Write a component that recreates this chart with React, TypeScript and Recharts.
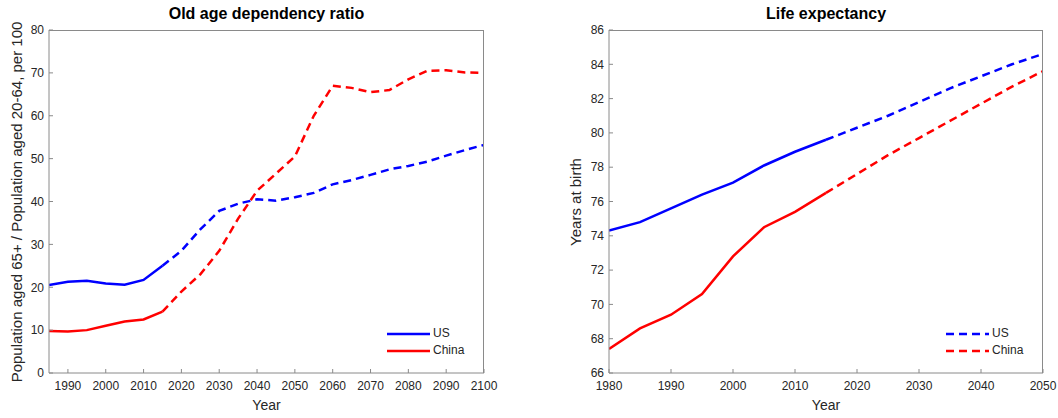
import { LineChart, Line, XAxis, YAxis } from 'recharts';

const depYears = [1985, 1990, 1995, 2000, 2005, 2010, 2015, 2020, 2025, 2030, 2035, 2040, 2045, 2050, 2055, 2060, 2065, 2070, 2075, 2080, 2085, 2090, 2095, 2100];
const depUS = [20.5, 21.3, 21.5, 20.9, 20.6, 21.7, 25, 28.5, 33.5, 37.8, 39.5, 40.5, 40.2, 41, 42, 44, 45, 46.2, 47.5, 48.3, 49.3, 50.7, 52, 53.2];
const depChina = [9.8, 9.7, 10, 11, 12, 12.5, 14.3, 19, 23, 28.5, 36, 42.5, 46.5, 50.5, 60, 67, 66.5, 65.5, 66, 68.5, 70.5, 70.6, 70.1, 70];
const depTicksX = [1990, 2000, 2010, 2020, 2030, 2040, 2050, 2060, 2070, 2080, 2090, 2100];
const depTicksY = [0, 10, 20, 30, 40, 50, 60, 70, 80];

const lifeYears = [1980, 1985, 1990, 1995, 2000, 2005, 2010, 2015, 2020, 2025, 2030, 2035, 2040, 2045, 2050];
const lifeUS = [74.3, 74.8, 75.6, 76.4, 77.1, 78.1, 78.9, 79.6, 80.3, 81.0, 81.8, 82.6, 83.3, 84.0, 84.6];
const lifeChina = [67.4, 68.6, 69.4, 70.6, 72.8, 74.5, 75.4, 76.5, 77.6, 78.7, 79.7, 80.7, 81.7, 82.7, 83.6];
const lifeTicksX = [1980, 1990, 2000, 2010, 2020, 2030, 2040, 2050];
const lifeTicksY = [66, 68, 70, 72, 74, 76, 78, 80, 82, 84, 86];

const LAST_ACTUAL = 2015;

function build(years: number[], us: number[], cn: number[]) {
  return years.map((y, i) => ({
    year: y,
    usA: y <= LAST_ACTUAL ? us[i] : null,
    usP: y >= LAST_ACTUAL ? us[i] : null,
    cnA: y <= LAST_ACTUAL ? cn[i] : null,
    cnP: y >= LAST_ACTUAL ? cn[i] : null,
  }));
}

const font = '"Liberation Sans", Arial, sans-serif';
const tick = { fontSize: 12, fill: '#262626', fontFamily: font };
const ax = { stroke: '#8a8a8a' };
const TOP = 30;
const BOTTOM = 373;

function Panel(props: {
  left: number; width: number; yWidth: number; right: number;
  data: any[]; xDomain: [number, number]; xTicks: number[]; yDomain: [number, number]; yTicks: number[];
  title: string; yLabel: string; yLabelX: number; dashedLegend: boolean;
}) {
  const { left, width, yWidth, right, data, xDomain, xTicks, yDomain, yTicks, title, yLabel, yLabelX, dashedLegend } = props;
  const plotL = left + yWidth;
  const plotR = left + width - right;
  return (
    <>
      <div style={{ position: 'absolute', left, top: 0 }}>
        <LineChart width={width} height={418} data={data} margin={{ top: TOP, bottom: 0, left: 0, right }}>
          <XAxis dataKey="year" type="number" domain={xDomain} ticks={xTicks} tick={tick} axisLine={ax} tickLine={ax} tickSize={-4} tickMargin={12} height={418 - BOTTOM} allowDataOverflow />
          <YAxis domain={yDomain} ticks={yTicks} tick={tick} axisLine={ax} tickLine={ax} tickSize={-4} tickMargin={9} width={yWidth} />
          <Line dataKey="usA" stroke="#0000ff" strokeWidth={2.5} dot={false} isAnimationActive={false} />
          <Line dataKey="usP" stroke="#0000ff" strokeWidth={2.5} strokeDasharray="8 5" dot={false} isAnimationActive={false} />
          <Line dataKey="cnA" stroke="#ff0000" strokeWidth={2.5} dot={false} isAnimationActive={false} />
          <Line dataKey="cnP" stroke="#ff0000" strokeWidth={2.5} strokeDasharray="8 5" dot={false} isAnimationActive={false} />
        </LineChart>
      </div>
      <div style={{ position: 'absolute', left: plotL, top: TOP, width: plotR - plotL, height: BOTTOM - TOP, borderTop: '1px solid #8a8a8a', borderRight: '1px solid #8a8a8a', boxSizing: 'border-box', pointerEvents: 'none' }} />
      <div style={{ position: 'absolute', left: plotL, width: plotR - plotL, top: 5, textAlign: 'center', fontFamily: font, fontWeight: 'bold', fontSize: 16 }}>{title}</div>
      <div style={{ position: 'absolute', left: plotL, width: plotR - plotL, top: 397, textAlign: 'center', fontFamily: font, fontSize: 14, color: '#262626' }}>Year</div>
      <div style={{ position: 'absolute', left: yLabelX - 210, top: (TOP + BOTTOM) / 2 - 9, width: 420, textAlign: 'center', transform: 'rotate(-90deg)', fontFamily: font, fontSize: 15, lineHeight: '18px', color: '#262626' }}>{yLabel}</div>
      <div style={{ position: 'absolute', left: plotR - 98, top: 325, fontFamily: font, fontSize: 12, lineHeight: '17px', color: '#262626' }}>
        {[['US', '#0000ff'], ['China', '#ff0000']].map(([n, c]) => (
          <div key={n} style={{ display: 'flex', alignItems: 'center' }}>
            <svg width={45} height={10} style={{ marginRight: 2 }}>
              <line x1={1} x2={44} y1={5} y2={5} stroke={c} strokeWidth={2.5} strokeDasharray={dashedLegend ? '8 5' : undefined} />
            </svg>
            {n}
          </div>
        ))}
      </div>
    </>
  );
}

export default function App() {
  return (
    <div style={{ position: 'absolute', left: 0, top: 0, width: 1058, height: 418, background: '#fff', overflow: 'hidden' }}>
      <Panel left={0} width={500} yWidth={49} right={16} data={build(depYears, depUS, depChina)}
        xDomain={[1985, 2100]} xTicks={depTicksX} yDomain={[0, 80]} yTicks={depTicksY}
        title="Old age dependency ratio" yLabel="Population aged 65+ / Population aged 20-64, per 100" yLabelX={17} dashedLegend={false} />
      <Panel left={530} width={528} yWidth={79} right={15} data={build(lifeYears, lifeUS, lifeChina)}
        xDomain={[1980, 2050]} xTicks={lifeTicksX} yDomain={[66, 86]} yTicks={lifeTicksY}
        title="Life expectancy" yLabel="Years at birth" yLabelX={576} dashedLegend={true} />
    </div>
  );
}
